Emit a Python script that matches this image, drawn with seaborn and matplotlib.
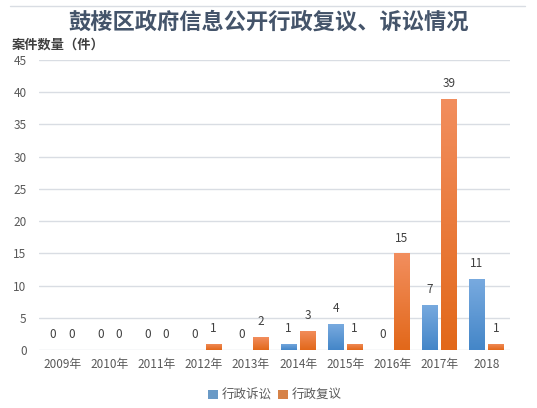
import matplotlib
matplotlib.use("Agg")
import matplotlib.pyplot as plt
import numpy as np
import pandas as pd
import seaborn as sns
from matplotlib.lines import Line2D

years = ["2009年", "2010年", "2011年", "2012年", "2013年",
         "2014年", "2015年", "2016年", "2017年", "2018"]
litigation = [0, 0, 0, 0, 0, 1, 4, 0, 7, 11]      # 行政诉讼
review = [0, 0, 0, 1, 2, 3, 1, 15, 39, 1]         # 行政复议
series_names = ["行政诉讼", "行政复议"]

BLUE = ("#4486c8", "#78aadf")     # bottom, top
ORANGE = ("#e2681a", "#f28e5e")

sns.set_theme(style="white")
plt.rcParams["font.family"] = ["Noto Sans CJK SC", "DejaVu Sans"]

df = pd.DataFrame({
    "year": years * 2,
    "count": litigation + review,
    "type": [series_names[0]] * len(years) + [series_names[1]] * len(years),
})

fig = plt.figure(figsize=(5.37, 4.08), dpi=100)
ax = fig.add_axes([39 / 537, 1 - 350 / 408, 471 / 537, 290 / 408])

sns.barplot(data=df, x="year", y="count", hue="type", order=years,
            hue_order=series_names, palette=["#5b9bd5", "#ed7d31"],
            width=0.8, gap=0.2, ax=ax, legend=True, zorder=3,
            linewidth=0, edgecolor="none")

ax.set_ylim(0, 45)
ax.set_yticks(range(0, 46, 5))
ax.grid(axis="y", color="#d9dde3", linewidth=1.0, zorder=0)
for s in ax.spines.values():
    s.set_visible(False)
ax.set_xlabel("")
ax.set_ylabel("")
ax.tick_params(axis="both", length=0, colors="#595959", labelsize=8.5)
ax.tick_params(axis="x", pad=6)
ax.tick_params(axis="y", pad=9)

# gradient fill on each bar + value labels
ylo, yhi = ax.get_ylim()
for cont, cols in zip(ax.containers, [BLUE, ORANGE]):
    cmap = matplotlib.colors.LinearSegmentedColormap.from_list("g", cols)
    for bar in cont:
        x0, w, h = bar.get_x(), bar.get_width(), bar.get_height()
        if h > 0:
            grad = np.linspace(0, 1, 100).reshape(-1, 1)
            im = ax.imshow(grad, cmap=cmap, origin="lower", aspect="auto",
                           extent=[x0, x0 + w, 0, h], zorder=3)
            im.set_clip_path(bar)
            bar.set_facecolor("none")
        ax.annotate(f"{int(h)}", (x0 + w / 2, h), xytext=(0, 11),
                    textcoords="offset points", ha="center", va="center",
                    fontsize=8.5, color="#404040", zorder=5)
ax.set_xlim(-0.5, len(years) - 0.5)
ax.set_ylim(ylo, yhi)

leg = ax.legend(loc="upper center", bbox_to_anchor=(0.5, -0.095), ncol=2,
                frameon=False, fontsize=9, handlelength=0.8, handleheight=0.8,
                columnspacing=0.5, handletextpad=0.3, labelcolor="#595959")

fig.text(0.5, 1 - 22 / 408, "鼓楼区政府信息公开行政复议、诉讼情况",
         ha="center", va="center", fontsize=16, fontweight="bold",
         color="#44546a")
fig.text(12 / 537, 1 - 45 / 408, "案件数量（件）", ha="left", va="center",
         fontsize=9.5, fontweight="bold", color="#404040")
fig.add_artist(Line2D([10 / 537, 525 / 537], [1 - 6 / 408, 1 - 6 / 408],
                      color="#d9dde3", linewidth=1.0))

fig.savefig("out.png", dpi=100)
